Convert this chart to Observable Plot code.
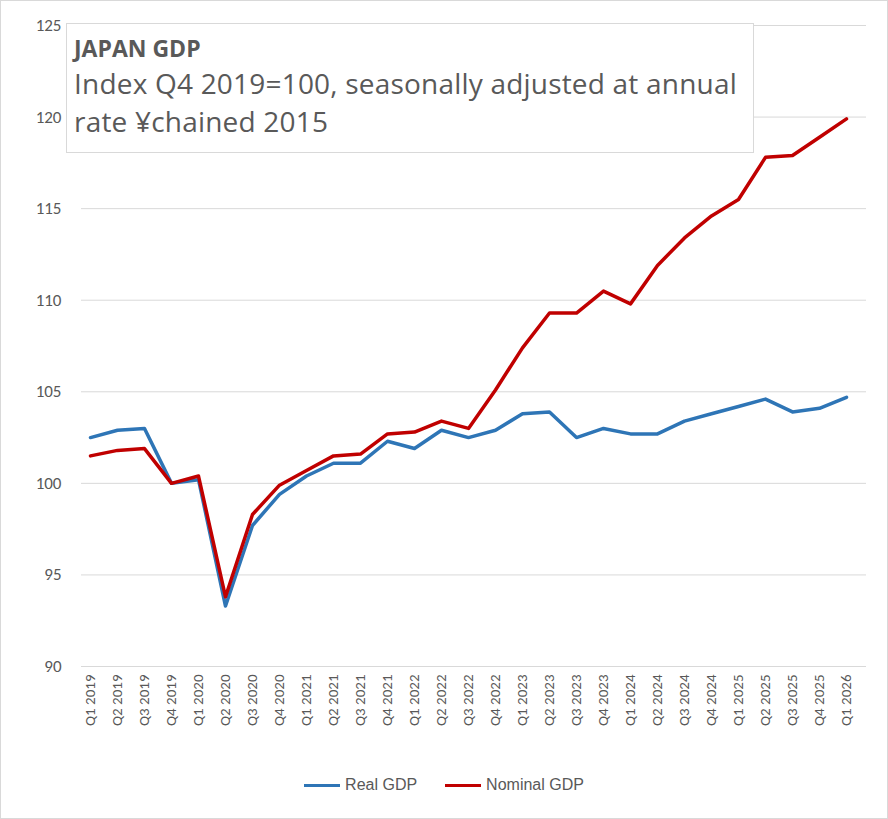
<!DOCTYPE html>
<html><head><meta charset="utf-8">
<script src="https://cdn.jsdelivr.net/npm/d3@7"></script>
<script src="https://cdn.jsdelivr.net/npm/@observablehq/plot@0.6"></script>
<style>
body{margin:0;background:#fff;font-family:Calibri,Carlito,"Liberation Sans",sans-serif;}
#wrap{position:relative;width:886px;height:817px;border:1px solid #d9d9d9;}
#title{position:absolute;left:65px;top:22px;width:688px;height:130px;border:1px solid #d9d9d9;background:#fff;color:#595959;box-sizing:border-box;padding:8px 0 0 7px;font-family:"Open Sans","Liberation Sans",sans-serif;}
#legend{position:absolute;top:775px;left:0;width:886px;text-align:center;font-size:16px;color:#595959;font-family:"Liberation Sans",sans-serif;}
.sw{display:inline-block;width:36px;height:3px;vertical-align:middle;margin-right:5px;}
#chart svg text{fill:#595959;}
</style></head><body>
<div id="wrap"><div id="chart"></div>
<div id="title"><div style="font-size:23px;font-weight:bold;line-height:32px">JAPAN GDP</div><div style="font-size:28px;line-height:38px;letter-spacing:0.2px">Index Q4 2019=100, seasonally adjusted at annual rate ¥chained 2015</div></div>
<div id="legend"><span class="sw" style="background:#2e75b6"></span>Real GDP<span style="display:inline-block;width:28px"></span><span class="sw" style="background:#c00000"></span>Nominal GDP</div>
</div>
<script>
const quarters = ["Q1 2019","Q2 2019","Q3 2019","Q4 2019","Q1 2020","Q2 2020","Q3 2020","Q4 2020","Q1 2021","Q2 2021","Q3 2021","Q4 2021","Q1 2022","Q2 2022","Q3 2022","Q4 2022","Q1 2023","Q2 2023","Q3 2023","Q4 2023","Q1 2024","Q2 2024","Q3 2024","Q4 2024","Q1 2025","Q2 2025","Q3 2025","Q4 2025","Q1 2026"];
const real = [102.5,102.9,103.0,100.0,100.2,93.3,97.7,99.4,100.4,101.1,101.1,102.3,101.9,102.9,102.5,102.9,103.8,103.9,102.5,103.0,102.7,102.7,103.4,103.8,104.2,104.6,103.9,104.1,104.7];
const nominal = [101.5,101.8,101.9,100.0,100.4,93.8,98.3,99.9,100.7,101.5,101.6,102.7,102.8,103.4,103.0,105.1,107.4,109.3,109.3,110.5,109.8,111.9,113.4,114.6,115.5,117.8,117.9,118.9,119.9];
const yTicks = [90,95,100,105,110,115,120,125];
const data = [
  ...quarters.map((q,i)=>({q,v:real[i],s:"Real GDP"})),
  ...quarters.map((q,i)=>({q,v:nominal[i],s:"Nominal GDP"}))
];
const chart = Plot.plot({
  width:886, height:760,
  marginLeft:80, marginRight:21, marginTop:24, marginBottom:95,
  insetLeft:3, insetRight:15,
  style:{fontFamily:"Calibri,Carlito,'Liberation Sans',sans-serif",fontSize:"16px"},
  x:{type:"point", domain:quarters, padding:0, label:null},
  y:{domain:[90,125], label:null},
  color:{domain:["Real GDP","Nominal GDP"], range:["#2e75b6","#c00000"]},
  marks:[
    Plot.ruleY(yTicks,{stroke:"#d9d9d9"}),
    Plot.axisY({ticks:yTicks, tickSize:0, tickPadding:20, fontSize:17, label:null}),
    Plot.axisX({tickSize:0, tickRotate:-90, fontSize:15, label:null, tickPadding:8}),
    Plot.line(data,{x:"q",y:"v",z:"s",stroke:"s",strokeWidth:3.5})
  ]
});
document.getElementById("chart").append(chart);
</script></body></html>
